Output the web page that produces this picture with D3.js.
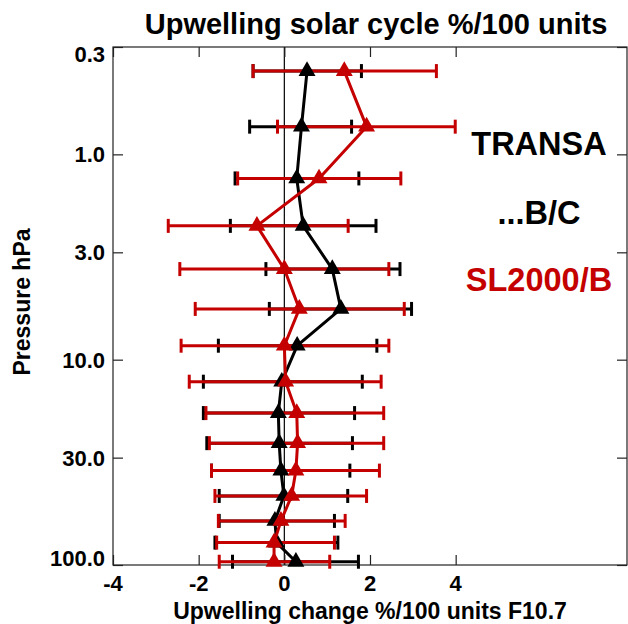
<!DOCTYPE html>
<html><head><meta charset="utf-8">
<script src="https://cdn.jsdelivr.net/npm/d3@7"></script>
<style>
body{margin:0;background:#fff}
text{font-family:"Liberation Sans",Arial,Helvetica,sans-serif;font-weight:bold;fill:#000}
</style>
</head><body><svg id="c" width="628" height="624"></svg>
<script>
// ---- data ----
const pressure    = [0.393,0.733,1.31,2.23,3.62,5.66,8.55,12.8,18.2,25.5,34.7,46.1,61.0,77.8,96.4];
const transaValue = [0.53,0.40,0.29,0.44,1.12,1.32,0.30,-0.06,-0.14,-0.12,-0.08,-0.01,-0.22,-0.18,0.27];
const transaLow   = [-0.73,-0.81,-1.15,-1.26,-0.43,-0.35,-1.54,-1.89,-1.89,-1.81,-1.70,-1.52,-1.52,-1.62,-1.21];
const transaHigh  = [1.80,1.57,1.74,2.14,2.70,2.97,2.16,1.82,1.64,1.59,1.53,1.48,1.17,1.25,1.73];
const slValue     = [1.40,1.92,0.81,-0.64,0.00,0.35,0.00,0.03,0.29,0.31,0.27,0.17,-0.08,-0.24,-0.24];
const slLow       = [-0.73,-0.16,-1.09,-2.71,-2.44,-2.08,-2.41,-2.22,-1.83,-1.75,-1.70,-1.62,-1.54,-1.58,-1.52];
const slHigh      = [3.55,3.99,2.72,1.49,2.44,2.80,2.44,2.26,2.32,2.32,2.22,1.92,1.42,1.17,1.06];
const xTicks      = [-4,-2,0,2,4];
const yTicks      = [0.3,1,3,10,30,100];
const yTickLabels = ["0.3","1.0","3.0","10.0","30.0","100.0"];
const seriesNames = ["TRANSA","...B/C","SL2000/B"];
const titleText   = "Upwelling solar cycle %/100 units";
const xTitle      = "Upwelling change %/100 units F10.7";
const yTitle      = "Pressure hPa";

const RED = "#c40000";
const L = 113, R = 627, T = 47, B = 565;
const svg = d3.select("#c");
const x = d3.scaleLinear().domain([-4, 8]).range([L, R]);
const y = d3.scaleLog().domain([0.3, 100]).range([T, B]);

function stext(g, str, px, py, size, anchor, color){
  return g.append("text").attr("x",px).attr("y",py)
    .attr("text-anchor", anchor).attr("font-size", size).style("fill", color||"#000").text(str);
}

// frame
svg.append("rect").attr("x",L).attr("y",T).attr("width",R-L).attr("height",B-T)
  .attr("fill","none").attr("stroke","#222").attr("stroke-width",1.2);
// zero line
svg.append("line").attr("x1",x(0)).attr("x2",x(0)).attr("y1",T).attr("y2",B)
  .attr("stroke","#000").attr("stroke-width",1.2);

// axes (ticks inward)
const gxB = svg.append("g").attr("transform",`translate(0,${B})`)
  .call(d3.axisBottom(x).tickValues(xTicks).tickSize(-10).tickFormat(""));
const gxT = svg.append("g").attr("transform",`translate(0,${T})`)
  .call(d3.axisTop(x).tickValues(xTicks).tickSize(-10).tickFormat(""));
const gyL = svg.append("g").attr("transform",`translate(${L},0)`)
  .call(d3.axisLeft(y).tickValues(yTicks).tickSize(-10).tickFormat(""));
const gyR = svg.append("g").attr("transform",`translate(${R},0)`)
  .call(d3.axisRight(y).tickValues(yTicks).tickSize(-10).tickFormat(""));
[gxB,gxT,gyL,gyR].forEach(g=>{ g.select(".domain").remove();
  g.selectAll(".tick line").attr("stroke","#222").attr("stroke-width",1.2); });

// tick labels
xTicks.forEach(v=> stext(svg, String(v), x(v), 591, 22, "middle"));
yTicks.forEach((v,i)=>{
  const off = i===0 ? 15 : (i===yTicks.length-1 ? 1 : 8);
  stext(svg, yTickLabels[i], 105, y(v)+off, 22, "end");
});

// titles
stext(svg, titleText, 376, 34, 29, "middle");
stext(svg, xTitle, 370, 618.5, 23, "middle");
svg.append("text").attr("transform","translate(30,302) rotate(-90)")
  .attr("text-anchor","middle").attr("font-size",23).text(yTitle);

// legend
stext(svg, seriesNames[0], 539, 155, 32.5, "middle");
stext(svg, seriesNames[1], 539, 224, 32.5, "middle");
stext(svg, seriesNames[2], 539, 291, 32.5, "middle", RED);

function errorBars(lo, hi, color){
  const g = svg.append("g").attr("stroke", color).attr("stroke-width", 3);
  pressure.forEach((p,i)=>{
    const yy = y(p);
    g.append("line").attr("x1",x(lo[i])).attr("x2",x(hi[i])).attr("y1",yy).attr("y2",yy);
    [lo[i],hi[i]].forEach(v=> g.append("line").attr("x1",x(v)).attr("x2",x(v))
      .attr("y1",yy-7).attr("y2",yy+7));
  });
}
function series(vals, color){
  const pts = pressure.map((p,i)=>[x(vals[i]), y(p)]);
  svg.append("path").attr("d", d3.line()(pts)).attr("fill","none")
    .attr("stroke",color).attr("stroke-width",3).attr("stroke-linejoin","round");
  const tri = d3.symbol().type(d3.symbolTriangle).size(125);
  svg.append("g").selectAll("path").data(pts).join("path")
    .attr("transform",d=>`translate(${d[0]},${d[1]})`).attr("d",tri()).attr("fill",color);
}
errorBars(transaLow, transaHigh, "#000");
errorBars(slLow, slHigh, RED);
series(transaValue, "#000");
series(slValue, RED);
</script></body></html>
